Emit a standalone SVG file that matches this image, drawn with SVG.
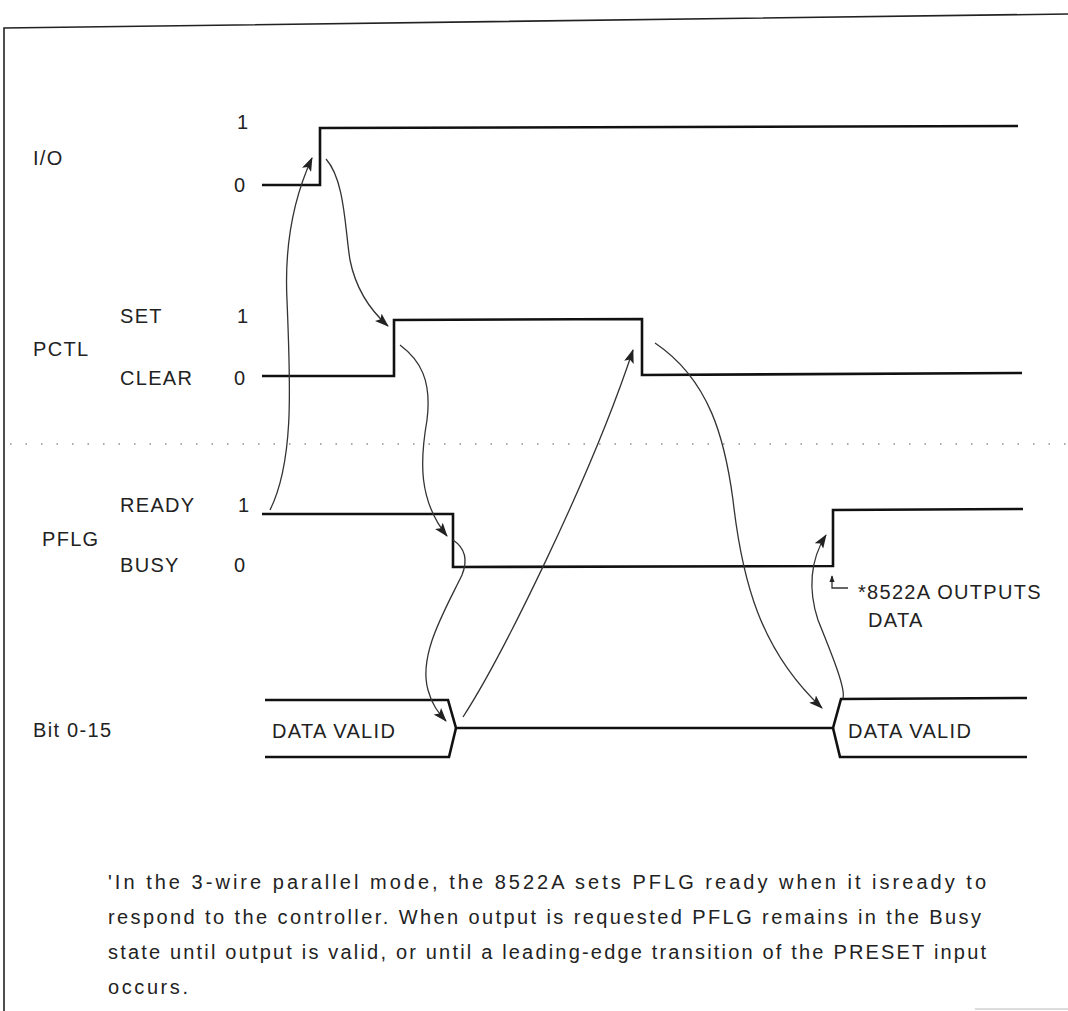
<svg xmlns="http://www.w3.org/2000/svg" width="1068" height="1011" viewBox="0 0 1068 1011">
<style>
.lbl{font-family:"Liberation Sans",Arial,sans-serif;font-size:20px;letter-spacing:1.3px;fill:#222}
.note{font-family:"Liberation Sans",Arial,sans-serif;font-size:20px;fill:#222}
.wave{fill:none;stroke:#111;stroke-width:2.6;stroke-linejoin:miter}
.conn{fill:none;stroke:#333;stroke-width:1.3}
.border{fill:none;stroke:#222;stroke-width:1.6}
</style>
<defs>
<marker id="ah" viewBox="0 0 14 10" refX="13" refY="5" markerWidth="14" markerHeight="10" markerUnits="userSpaceOnUse" orient="auto">
<path d="M0,0 L14,5 L0,10 L3,5 z" fill="#222"/>
</marker>
<marker id="ahs" viewBox="0 0 8 6" refX="7" refY="3" markerWidth="7" markerHeight="6" markerUnits="userSpaceOnUse" orient="auto">
<path d="M0,0 L8,3 L0,6 z" fill="#222"/>
</marker>
</defs>
<rect width="1068" height="1011" fill="#fff"/>
<g id="frame">
<path class="border" d="M4,1011 L4,28 L1068,14"/>
<line x1="975" y1="1009" x2="1068" y2="1009" stroke="#bbb" stroke-width="1"/>
<line x1="10" y1="444" x2="1068" y2="444" stroke="#555" stroke-width="1.2" stroke-dasharray="1.5 14"/>
</g>
<g id="io">
<text class="lbl" x="33" y="165">I/O</text>
<text class="lbl" x="237" y="129">1</text>
<text class="lbl" x="234" y="192">0</text>
<path class="wave" d="M262,185 L320,185 L320,128 L1018,126"/>
</g>
<g id="pctl">
<text class="lbl" x="120" y="323">SET</text>
<text class="lbl" x="237" y="323">1</text>
<text class="lbl" x="33" y="356">PCTL</text>
<text class="lbl" x="120" y="385">CLEAR</text>
<text class="lbl" x="234" y="385">0</text>
<path class="wave" d="M262,376 L394,376 L394,320 L642,319 L642,375 L1022,373"/>
</g>
<g id="pflg">
<text class="lbl" x="120" y="512">READY</text>
<text class="lbl" x="238" y="512">1</text>
<text class="lbl" x="42" y="546">PFLG</text>
<text class="lbl" x="120" y="572">BUSY</text>
<text class="lbl" x="234" y="572">0</text>
<path class="wave" d="M262,514 L453,514 L453,567 L833,566 L833,510 L1023,509"/>
</g>
<g id="bits">
<text class="lbl" x="33" y="737">Bit 0-15</text>
<path class="wave" d="M265,700 L448,700 L456,728 L833,728 L841,699 L1027,698"/>
<path class="wave" d="M265,757 L449,757 L456,728"/>
<path class="wave" d="M833,728 L840,757 L1027,757"/>
<text class="lbl" x="272" y="738">DATA VALID</text>
<text class="lbl" x="848" y="738">DATA VALID</text>
</g>
<g id="note-outputs">
<text class="lbl" x="858" y="599">*8522A OUTPUTS</text>
<text class="lbl" x="868" y="627">DATA</text>
</g>
<g id="connectors">
<path class="conn" marker-end="url(#ah)" d="M270,510 C295,460 290,380 287,300 C284,240 295,195 312,158"/>
<path class="conn" marker-end="url(#ah)" d="M326,159 C345,180 345,230 350,260 C356,290 370,310 388,326"/>
<path class="conn" marker-end="url(#ah)" d="M400,345 C420,360 432,380 427,420 C420,460 418,500 447,536"/>
<path class="conn" marker-end="url(#ah)" d="M453,540 C465,548 468,560 462,575 C445,610 418,655 428,690 C432,705 438,712 446,721"/>
<path class="conn" marker-end="url(#ah)" d="M463,717 C500,660 590,480 633,350"/>
<path class="conn" marker-end="url(#ah)" d="M655,343 C710,380 725,440 733,500 C742,580 760,650 822,708"/>
<path class="conn" marker-end="url(#ah)" d="M843,698 C846,688 830,650 818,620 C808,590 810,560 826,535"/>
<path class="conn" marker-end="url(#ahs)" d="M848,588 L832,588 L832,576"/>
</g>
<g id="footnote">
<text class="note" x="108" y="889" textLength="878" lengthAdjust="spacing">'In the 3-wire parallel mode, the 8522A sets PFLG ready when it isready to</text>
<text class="note" x="108" y="924" textLength="873" lengthAdjust="spacing">respond to the controller. When output is requested PFLG remains in the Busy</text>
<text class="note" x="108" y="959" textLength="878" lengthAdjust="spacing">state until output is valid, or until a leading-edge transition of the PRESET input</text>
<text class="note" x="108" y="994" textLength="80" lengthAdjust="spacing">occurs.</text>
</g>
</svg>
